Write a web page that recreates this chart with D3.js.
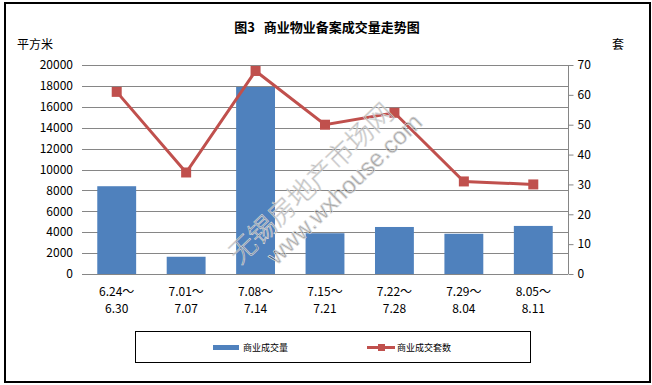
<!DOCTYPE html>
<html lang="zh">
<head>
<meta charset="utf-8">
<script src="https://d3js.org/d3.v7.min.js"></script>
<style>
  body { margin: 0; background: #fff; }
  svg text { font-family: SimSun, "Noto Sans CJK SC", sans-serif; fill: #000; }
</style>
</head>
<body>
<script>
  // data
  var weeksTop = ["6.24～", "7.01～", "7.08～", "7.15～", "7.22～", "7.29～", "8.05～"];
  var weeksBottom = ["6.30", "7.07", "7.14", "7.21", "7.28", "8.04", "8.11"];
  var area = [8400, 1650, 17900, 3900, 4500, 3850, 4600];   // 商业成交量 (平方米)
  var units = [61, 34, 68, 50, 54, 31, 30];                  // 商业成交套数 (套)
  var leftTicks = [0, 2000, 4000, 6000, 8000, 10000, 12000, 14000, 16000, 18000, 20000];
  var rightTicks = [0, 10, 20, 30, 40, 50, 60, 70];

  var width = 652, height = 385;
  var plotL = 82, plotR = 568, plotT = 65, plotB = 274;
  var blue = "#4F81BD", red = "#C0504D", grid = "#868686";

  var svg = d3.select("body").append("svg")
    .attr("width", width)
    .attr("height", height);

  // outer frame
  svg.append("rect")
    .attr("x", 5).attr("y", 3)
    .attr("width", 645).attr("height", 379)
    .attr("fill", "none").attr("stroke", "#000").attr("stroke-width", 2);

  svg.append("text")
    .attr("x", 327).attr("y", 32)
    .attr("text-anchor", "middle")
    .style("font-size", "13px").style("font-weight", "bold")
    .text("图3\u00a0\u00a0\u00a0商业物业备案成交量走势图");

  svg.append("text").attr("x", 17).attr("y", 49).style("font-size", "12px").text("平方米");
  svg.append("text").attr("x", 612).attr("y", 49).style("font-size", "12px").text("套");

  var x = d3.scaleBand()
    .domain(weeksTop)
    .range([plotL, plotR])
    .paddingInner(0.44)
    .paddingOuter(0.22);

  var yL = d3.scaleLinear().domain([0, 20000]).range([plotB, plotT]);
  var yR = d3.scaleLinear().domain([0, 70]).range([plotB, plotT]);

  // gridlines + left labels
  var gl = svg.append("g");
  gl.selectAll("line")
    .data(leftTicks)
    .enter().append("line")
    .attr("x1", plotL).attr("x2", plotR)
    .attr("y1", function(d) { return Math.round(yL(d)) + 0.5; })
    .attr("y2", function(d) { return Math.round(yL(d)) + 0.5; })
    .attr("stroke", grid).attr("stroke-width", 1);
  gl.selectAll("text")
    .data(leftTicks)
    .enter().append("text")
    .attr("x", 73)
    .attr("y", function(d) { return yL(d); })
    .attr("dy", "0.35em")
    .attr("text-anchor", "end")
    .style("font-size", "12px")
    .text(function(d) { return d; });

  // right axis
  var ra = svg.append("g")
    .attr("transform", "translate(" + (plotR + 0.5) + ",0)")
    .call(d3.axisRight(yR).tickValues(rightTicks).tickSize(5).tickPadding(4));
  ra.select(".domain").attr("stroke", grid).attr("d", "M0," + plotT + "V" + plotB);
  ra.selectAll(".tick line").attr("stroke", grid);
  ra.selectAll(".tick text").style("font-size", "12px").attr("fill", "#000")
    .style("font-family", "SimSun, 'Noto Sans CJK SC', sans-serif");

  // bars
  svg.append("g").selectAll("rect")
    .data(area)
    .enter().append("rect")
    .attr("x", function(d, i) { return x(weeksTop[i]); })
    .attr("y", function(d) { return yL(d); })
    .attr("width", x.bandwidth())
    .attr("height", function(d) { return plotB - yL(d); })
    .attr("fill", blue);

  // axis line at zero over bars
  svg.append("line")
    .attr("x1", plotL).attr("x2", plotR)
    .attr("y1", plotB + 0.5).attr("y2", plotB + 0.5)
    .attr("stroke", grid);

  // category labels
  var cl = svg.append("g").selectAll("g")
    .data(weeksTop)
    .enter().append("g")
    .attr("transform", function(d) { return "translate(" + (x(d) + x.bandwidth() / 2) + ",0)"; });
  cl.append("text").attr("y", 296).attr("text-anchor", "middle").style("font-size", "12px")
    .text(function(d) { return d; });
  cl.append("text").attr("y", 313).attr("text-anchor", "middle").style("font-size", "12px")
    .text(function(d, i) { return weeksBottom[i]; });

  // line series
  var cx = function(d, i) { return x(weeksTop[i]) + x.bandwidth() / 2; };
  svg.append("path")
    .datum(units)
    .attr("fill", "none")
    .attr("stroke", red)
    .attr("stroke-width", 3)
    .attr("d", d3.line().x(cx).y(function(d) { return yR(d); }));
  svg.append("g").selectAll("rect")
    .data(units)
    .enter().append("rect")
    .attr("x", function(d, i) { return cx(d, i) - 5; })
    .attr("y", function(d) { return yR(d) - 5; })
    .attr("width", 10).attr("height", 10)
    .attr("fill", red);

  // watermark
  var wm = svg.append("g").attr("transform", "translate(240,265) rotate(-44)");
  wm.append("text").attr("x", 0).attr("y", 0)
    .style("font-size", "27px").style("font-weight", "300")
    .attr("fill", "#fff").attr("fill-opacity", 0.35)
    .attr("stroke", "#dcdcdc").attr("stroke-width", 0.7)
    .text("无锡房地产市场网");
  wm.append("text").attr("x", 26).attr("y", 26)
    .style("font-size", "24px").style("font-family", "'Liberation Sans', Arial, sans-serif")
    .attr("fill", "#fff").attr("fill-opacity", 0.35)
    .attr("stroke", "#dcdcdc").attr("stroke-width", 0.7)
    .text("www.wxhouse.com");

  // legend
  var lg = svg.append("g");
  lg.append("rect")
    .attr("x", 135.5).attr("y", 331.5)
    .attr("width", 395).attr("height", 31)
    .attr("fill", "none").attr("stroke", "#000").attr("stroke-width", 1);
  lg.append("rect").attr("x", 213).attr("y", 345).attr("width", 26).attr("height", 5).attr("fill", blue);
  lg.append("text").attr("x", 243).attr("y", 351).style("font-size", "9px").text("商业成交量");
  lg.append("line").attr("x1", 367).attr("x2", 395).attr("y1", 347.5).attr("y2", 347.5)
    .attr("stroke", red).attr("stroke-width", 3);
  lg.append("rect").attr("x", 378).attr("y", 344).attr("width", 7).attr("height", 7).attr("fill", red);
  lg.append("text").attr("x", 397).attr("y", 351).style("font-size", "9px").text("商业成交套数");
</script>
</body>
</html>
